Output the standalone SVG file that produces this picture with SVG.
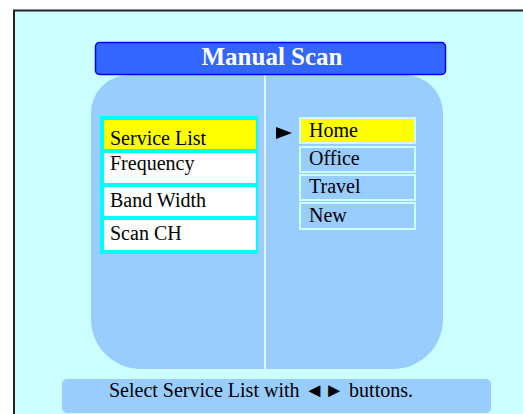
<svg xmlns="http://www.w3.org/2000/svg" width="523" height="414" viewBox="0 0 523 414">
<style>
.t{font-family:"Liberation Serif","Times New Roman",serif;font-size:20px;fill:#000}
.lb{fill:#fff}
.rb{fill:#99CCFF;stroke:#CCFFFF;stroke-width:2}
</style>
<rect x="0" y="0" width="523" height="414" fill="#fff"/>
<rect x="14" y="10.5" width="520" height="420" fill="#CCFFFF" stroke="#222" stroke-width="2"/>
<g id="panel">
<path d="M130,75 H405 A38,38 0 0 1 443,113 V319 A50,50 0 0 1 393,369 H141 A50,50 0 0 1 91,319 V113 A38,38 0 0 1 130,75 Z" fill="#99CCFF"/>
<line x1="265" y1="75" x2="265" y2="369" stroke="#fff" stroke-width="1.5"/>
</g>
<g id="title">
<rect x="95.5" y="42.5" width="350" height="32" rx="4" fill="#3366FF" stroke="#0000EE" stroke-width="1.5"/>
<text x="272" y="65" text-anchor="middle" font-family="Liberation Serif,serif" font-weight="bold" font-size="25" fill="#fff">Manual Scan</text>
</g>
<g id="left-list">
<rect x="100" y="116" width="158" height="138" fill="#00FFFF"/>
<g id="service-list"><rect x="104" y="120" width="152" height="29" fill="#FFFF00"/><text class="t" x="110" y="145">Service List</text></g>
<g id="frequency"><rect class="lb" x="104" y="153" width="152" height="30"/><text class="t" x="110" y="170">Frequency</text></g>
<g id="band-width"><rect class="lb" x="104" y="187" width="152" height="29"/><text class="t" x="110" y="207">Band Width</text></g>
<g id="scan-ch"><rect class="lb" x="104" y="220" width="152" height="30"/><text class="t" x="110" y="240">Scan CH</text></g>
</g>
<g id="right-list">
<polygon points="276,127 292,133 276,139" fill="#000"/>
<g id="home"><rect x="300" y="118" width="115" height="25" fill="#FFFF00" stroke="#CCFFFF" stroke-width="2"/><text class="t" x="309" y="137">Home</text></g>
<g id="office"><rect class="rb" x="300" y="147" width="115" height="25"/><text class="t" x="309" y="165">Office</text></g>
<g id="travel"><rect class="rb" x="300" y="175" width="115" height="25"/><text class="t" x="309" y="193">Travel</text></g>
<g id="new"><rect class="rb" x="300" y="203" width="115" height="26"/><text class="t" x="309" y="222">New</text></g>
</g>
<g id="status">
<rect x="62" y="379" width="429" height="34" rx="5" fill="#99CCFF"/>
<text class="t" x="261" y="397" text-anchor="middle">Select Service List with ◄► buttons.</text>
</g>
</svg>
